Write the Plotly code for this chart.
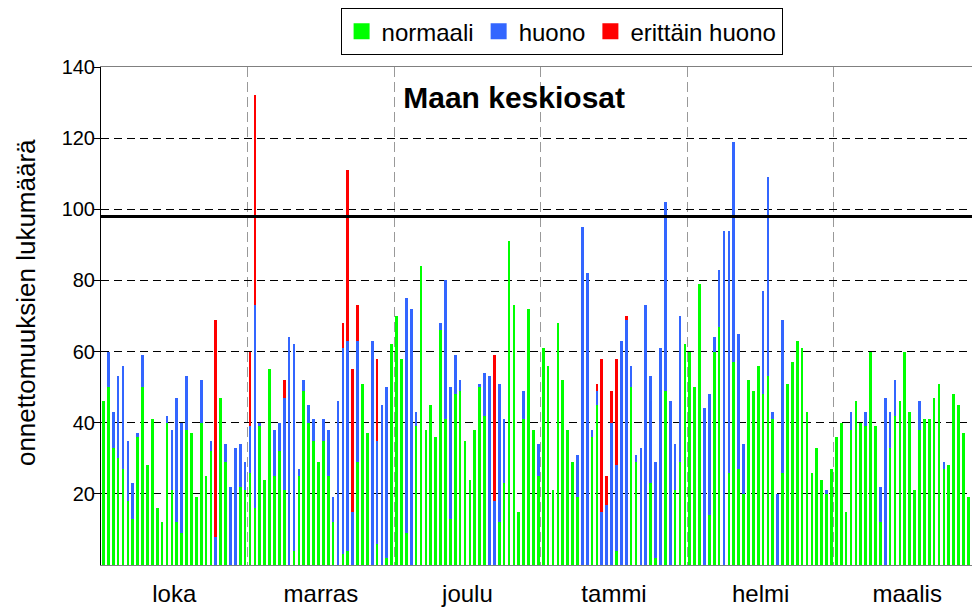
import plotly.graph_objects as go

kuukaudet = ["loka", "marras", "joulu", "tammi", "helmi", "maalis"]

normaali = [46, 50, 33, 30, 27, 18, 13, 36, 50, 28, 41, 16, 12, 40, 21, 12, 9, 38, 37, 19,
            40, 25, 32, 0, 47, 29, 0, 0, 22, 21, 26, 16, 39, 24, 55, 25, 32, 21, 0, 4,
            25, 49, 40, 35, 29, 35, 25, 12, 0, 3, 4, 0, 29, 51, 37, 0, 6, 0, 2, 62,
            70, 58, 9, 0, 39, 84, 38, 45, 36, 66, 41, 13, 48, 49, 35, 24, 38, 50, 42, 0,
            0, 12, 23, 91, 73, 15, 41, 72, 38, 25, 61, 56, 21, 68, 52, 38, 29, 19, 0, 0,
            36, 45, 0, 0, 0, 4, 0, 0, 50, 29, 0, 0, 23, 2, 0, 49, 0, 21, 29, 62,
            60, 50, 79, 0, 14, 60, 67, 0, 26, 57, 27, 20, 52, 49, 56, 48, 53, 41, 0, 26,
            51, 57, 63, 61, 43, 26, 33, 24, 20, 27, 36, 40, 15, 38, 46, 40, 39, 60, 39, 12,
            0, 33, 42, 46, 60, 43, 21, 38, 41, 41, 47, 51, 27, 28, 48, 45, 37, 19, 39, 18]

huono = [0, 10, 10, 23, 29, 17, 10, 1, 9, 0, 0, 0, 0, 2, 17, 35, 31, 15, 0, 0,
         12, 0, 3, 8, 0, 5, 22, 33, 12, 8, 13, 57, 1, 0, 0, 13, 8, 26, 64, 58,
         2, 3, 5, 6, 0, 6, 13, 7, 46, 58, 59, 15, 34, 0, 0, 63, 29, 45, 48, 0,
         0, 0, 66, 72, 4, 0, 0, 0, 0, 2, 39, 37, 11, 3, 0, 0, 0, 1, 12, 53,
         18, 39, 18, 0, 0, 0, 8, 0, 0, 9, 0, 0, 0, 0, 0, 0, 0, 12, 95, 82,
         2, 4, 15, 17, 40, 24, 63, 69, 6, 2, 33, 73, 30, 27, 61, 53, 46, 13, 41, 0,
         0, 0, 0, 44, 34, 4, 16, 94, 68, 62, 38, 14, 0, 0, 0, 29, 56, 2, 20, 43,
         0, 0, 0, 0, 0, 0, 0, 0, 1, 0, 0, 0, 0, 5, 0, 0, 4, 0, 0, 10,
         47, 10, 10, 0, 0, 0, 0, 8, 0, 0, 0, 0, 2, 0, 0, 0, 0, 0, 0, 0]

erittain_huono = [0, 0, 0, 0, 0, 0, 0, 0, 0, 0, 0, 0, 0, 0, 0, 0, 0, 0, 0, 0,
                  0, 0, 0, 61, 0, 0, 0, 0, 0, 0, 21, 59, 0, 0, 0, 0, 0, 5, 0, 0,
                  0, 0, 0, 0, 0, 0, 0, 0, 0, 7, 48, 40, 10, 0, 0, 0, 23, 0, 0, 0,
                  0, 0, 0, 0, 0, 0, 0, 0, 0, 0, 0, 0, 0, 0, 0, 0, 0, 0, 0, 0,
                  41, 0, 0, 0, 0, 0, 0, 0, 0, 0, 0, 0, 0, 0, 0, 0, 0, 0, 0, 0,
                  0, 2, 43, 8, 9, 30, 0, 1, 0, 0, 0, 0, 0, 0, 0, 0, 0, 0, 0, 0,
                  0, 0, 0, 0, 0, 0, 0, 0, 0, 0, 0, 0, 0, 0, 0, 0, 0, 0, 0, 0,
                  0, 0, 0, 0, 0, 0, 0, 0, 0, 0, 0, 0, 0, 0, 0, 0, 0, 0, 0, 0,
                  0, 0, 0, 0, 0, 0, 0, 0, 0, 0, 0, 0, 0, 0, 0, 0, 0, 0, 0, 0]

raja = 98

paivat = list(range(len(normaali)))
fontti = "Liberation Sans, Arial, sans-serif"
sarjat = [("normaali", normaali, "#00ff00"),
          ("huono", huono, "#3366ff"),
          ("erittäin huono", erittain_huono, "#ff0000")]

fig = go.Figure()
for nimi, arvot, vari in sarjat:
    fig.add_trace(go.Bar(x=paivat, y=arvot, name=nimi, marker_color=vari,
                         marker_line_width=0, showlegend=False))
# selitteeseen isommat neliöt
for nimi, arvot, vari in sarjat:
    fig.add_trace(go.Scatter(x=[None], y=[None], mode="markers", name=nimi,
                             marker=dict(symbol="square", size=16, color=vari)))

# raja-arvo vaakaviivana
fig.add_hline(y=raja, line=dict(color="black", width=3), layer="above")

fig.add_annotation(text="onnettomuuksien lukumäärä", textangle=-90, xref="paper", yref="paper",
                   x=-0.0853, y=0.526, xanchor="center", yanchor="middle", showarrow=False,
                   font=dict(size=26))

fig.update_layout(
    width=980, height=608,
    barmode="stack", bargap=0.45,
    plot_bgcolor="white", paper_bgcolor="white",
    font=dict(family=fontti, size=20, color="black"),
    margin=dict(l=93, r=8, t=59, b=51, autoexpand=False),
    title=dict(text="<b>Maan keskiosat</b>", font=dict(size=30), x=0.47, xref="paper",
               xanchor="center", y=0.852, yanchor="middle"),
    legend=dict(orientation="h", x=0.524, xanchor="center", y=1.118, yanchor="top",
                bordercolor="black", borderwidth=1, font=dict(size=24), traceorder="normal",
                itemwidth=30),
    xaxis=dict(range=[-0.5, 179.4],
               tickmode="array", tickvals=[14.5 + 30 * i for i in range(6)], ticktext=kuukaudet,
               tickfont=dict(size=24),
               showgrid=False, ticks="", showline=True, linecolor="#808080", linewidth=1, mirror=True,
               zeroline=False, ticklabelstandoff=7,
               minor=dict(tickmode="array", tickvals=[29.5 + 30 * i for i in range(5)], showgrid=True,
                          gridcolor="#999999", griddash="10px,5px", gridwidth=1, ticks="")),
    yaxis=dict(range=[0, 140], tickmode="array", tickvals=[20, 40, 60, 80, 100, 120, 140],
               showgrid=True, gridcolor="black", griddash="8px,5px", gridwidth=1,
               ticks="outside", ticklen=6, tickcolor="black", ticklabelstandoff=-5,
               showline=True, linecolor="black", linewidth=1, zeroline=False),
)

fig.write_html("out.html")
